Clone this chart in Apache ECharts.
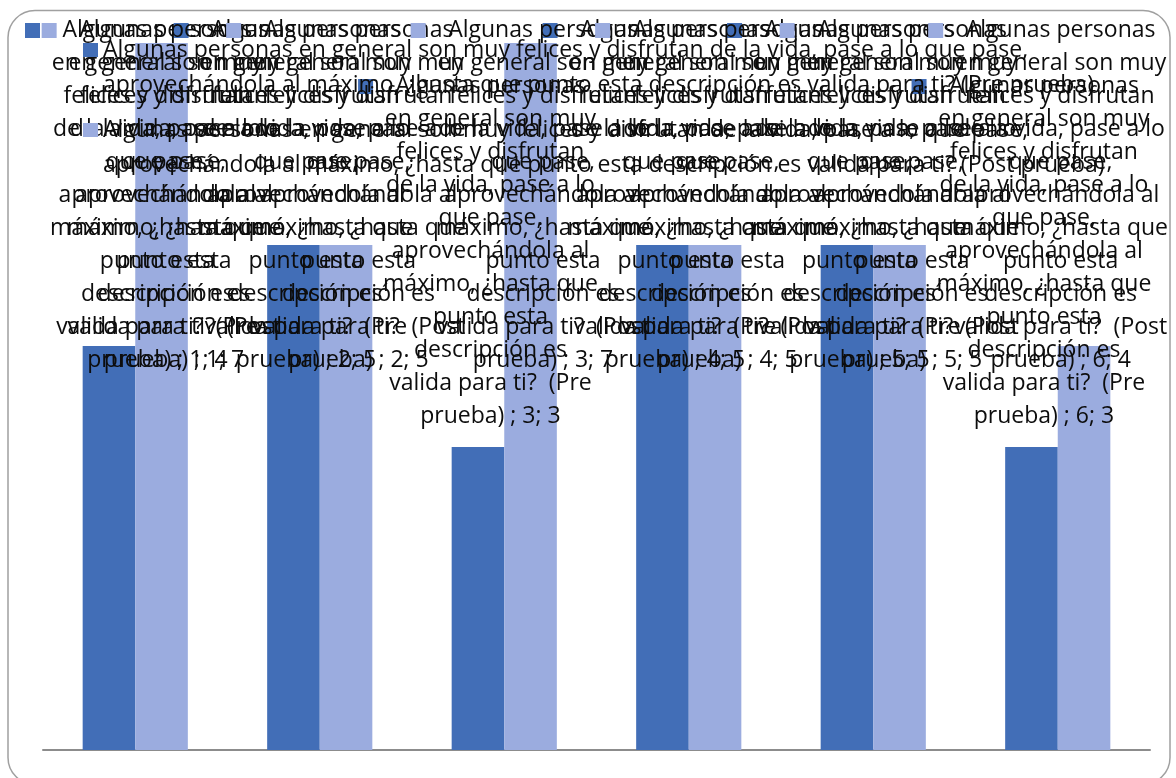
<!DOCTYPE html>
<html>
<head>
<meta charset="utf-8">
<script src="https://cdn.jsdelivr.net/npm/echarts@6/dist/echarts.min.js"></script>
<style>
  html, body { margin: 0; padding: 0; background: #fff; }
  #chart { width: 1176px; height: 778px; }
</style>
</head>
<body>
<div id="chart"></div>
<script>
// Survey question, asked before and after the intervention
const question = 'Algunas personas en general son muy felices y disfrutan de la vida, pase a lo que pase, aprovechándola al máximo, ¿hasta que punto esta descripción es valida para ti?';
const seriesNames = [question + '  (Pre prueba)', question + '  (Post prueba)'];
const legendNames = [question + ' (Pre prueba)', question + ' (Post prueba)'];
const categories = ['1', '2', '3', '4', '5', '6'];
const preValues = [4, 5, 3, 5, 5, 3];
const postValues = [7, 5, 7, 5, 5, 4];

const colors = ['#426EB7', '#9BACDF'];
const FONT_FAMILY = '"Open Sans", sans-serif';
const FONT_SIZE = 23;
const LABEL_LINE = 33;
const LABEL_WRAP = 218;
const LEGEND_LINE = 35;
const LEGEND_WRAP = 1040;

// Word wrapping with real text metrics
const measureCtx = document.createElement('canvas').getContext('2d');
function wrapText(text, width) {
  measureCtx.font = FONT_SIZE + 'px ' + FONT_FAMILY;
  const words = text.split(' ');
  const lines = [];
  let cur = null;
  for (const w of words) {
    const test = cur === null ? w : cur + ' ' + w;
    if (cur !== null && cur.trim() !== '' && measureCtx.measureText(test).width > width) {
      lines.push(cur);
      cur = w;
    } else {
      cur = test;
    }
  }
  if (cur !== null) lines.push(cur);
  return lines;
}

// Data label: legend key on the first line, text block centred beside it
function labelFormatter(p) {
  const text = p.seriesName + ' ; ' + p.name + '; ' + p.value;
  return wrapText(text, LABEL_WRAP).map(function (l, i) {
    return i === 0 ? '{k|}{g|}{t|' + l + '}' : '{s|}{t|' + l + '}';
  }).join('\n');
}

// Keep labels inside the chart frame
const BOUND_L = 25, BOUND_R = 1168, BOUND_T = 14;
function clampLabel(p) {
  const r = p.labelRect;
  let dx = 0, dy = 0;
  if (r.x < BOUND_L) dx = BOUND_L - r.x;
  else if (r.x + r.width > BOUND_R) dx = BOUND_R - (r.x + r.width);
  if (r.y < BOUND_T) dy = BOUND_T - r.y;
  return { dx: dx, dy: dy };
}

function makeSeries(idx, values) {
  return {
    name: seriesNames[idx],
    type: 'bar',
    data: values,
    barGap: '0%',
    barCategoryGap: '43%',
    itemStyle: { color: colors[idx] },
    label: {
      show: true,
      position: 'top',
      distance: 14,
      align: 'center',
      color: '#0d0d0d',
      fontFamily: FONT_FAMILY,
      fontSize: FONT_SIZE,
      lineHeight: LABEL_LINE,
      formatter: labelFormatter,
      rich: {
        k: { width: 15, height: 15, backgroundColor: colors[idx], align: 'left', lineHeight: LABEL_LINE },
        g: { width: 10, align: 'left', lineHeight: LABEL_LINE },
        s: { width: 25, align: 'left', lineHeight: LABEL_LINE },
        t: { align: 'center', color: '#0d0d0d', fontFamily: FONT_FAMILY, fontSize: FONT_SIZE, lineHeight: LABEL_LINE }
      }
    },
    labelLayout: clampLabel,
    emphasis: { disabled: true }
  };
}

// Legend entry: the wrapped name, with an empty leading line so the
// key sits level with the first line of text
function makeLegend(idx, top) {
  return {
    data: [seriesNames[idx]],
    left: 83,
    top: top,
    padding: 0,
    itemWidth: 15,
    itemHeight: 14,
    icon: 'rect',
    selectedMode: false,
    formatter: function () {
      return '\n' + wrapText(legendNames[idx], LEGEND_WRAP).join('\n');
    },
    textStyle: {
      color: '#0d0d0d',
      fontFamily: FONT_FAMILY,
      fontSize: FONT_SIZE,
      lineHeight: LEGEND_LINE
    }
  };
}

const chart = echarts.init(document.getElementById('chart'), null, { renderer: 'canvas' });
chart.setOption({
  animation: false,
  backgroundColor: '#fff',
  color: colors,
  graphic: [{
    type: 'rect',
    shape: { x: 8, y: 10.5, width: 1162, height: 774, r: 27 },
    style: { fill: 'none', stroke: '#a0a0a0', lineWidth: 1.5 },
    z: -10
  }],
  legend: [makeLegend(0, -2.5), makeLegend(1, 77.5)],
  grid: { left: 43, right: 26, top: 43, bottom: 28 },
  xAxis: {
    type: 'category',
    data: categories,
    axisLine: { show: true, lineStyle: { color: '#8c8c8c', width: 2 } },
    axisTick: { show: false },
    axisLabel: { show: false },
    splitLine: { show: false }
  },
  yAxis: {
    type: 'value',
    min: 0,
    max: 7,
    interval: 1,
    show: false
  },
  series: [makeSeries(0, preValues), makeSeries(1, postValues)]
});
</script>
</body>
</html>
